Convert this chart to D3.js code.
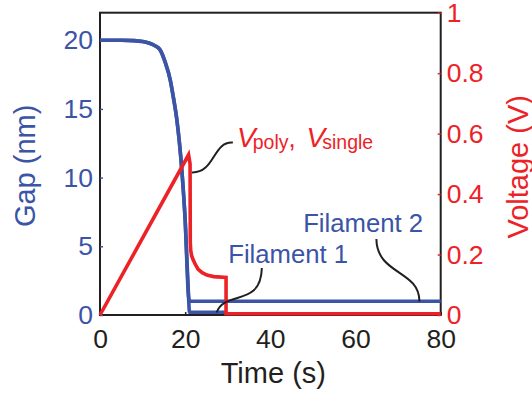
<!DOCTYPE html>
<html>
<head>
<meta charset="utf-8">
<script src="https://cdn.jsdelivr.net/npm/d3@7"></script>
<style>
  html, body { margin: 0; padding: 0; background: #fff; }
  svg { display: block; }
  text { font-family: "Liberation Sans", Arial, Helvetica, sans-serif; }
</style>
</head>
<body>
<svg id="chart" width="532" height="396"></svg>
<script>
// Gap closing (shared part of both filaments), time in s, gap in nm
const dropTime = [0, 5, 8, 10, 11.8, 12.9, 14.1, 15.3, 16.5, 17.25, 18.05, 19.2, 20.0, 20.8];
const dropGap  = [20, 20, 19.97, 19.9, 19.76, 19.6, 19.3, 18.4, 17.1, 15.8, 14.2, 10.6, 6.9, 1.3];

// Final gap of each filament after contact
const fil1Time = [21.0, 29.6];
const fil1Gap  = [0.2, 0.2];
const fil2Time = [21.0, 80];
const fil2Gap  = [1.0, 1.0];

// Applied voltage (V): linear sweep, abrupt drop, plateau, switch-off
const voltTime = [0, 20.8, 21.15, 21.2, 21.3, 21.5, 21.8, 22.3, 23.0, 24.0, 25.1, 26.7, 29.6, 29.6, 80];
const voltage  = [0, 0.53, 0.50, 0.24, 0.215, 0.197, 0.185, 0.17, 0.152, 0.14, 0.132, 0.127, 0.124, 0.004, 0.004];

// Axis ticks
const timeTicks = [0, 20, 40, 60, 80];
const gapTicks = [0, 5, 10, 15, 20];
const voltTicks = [0, 0.2, 0.4, 0.6, 0.8, 1];

// Leader curves (cubic Bezier control points, in t / gap units)
const leaderV    = [[31.2, 12.55], [26.5, 12.66], [27.0, 10.33], [21.6, 10.37]];
const leaderFil1 = [[38.0, 3.42], [37.8, 0.51], [29.1, 1.82], [27.4, 0.18]];
const leaderFil2 = [[64.9, 5.53], [65.0, 2.91], [75.1, 3.27], [75.0, 0.98]];

const BLUE = "#3b54a5";
const RED = "#ed2227";
const BLACK = "#231f20";

const svg = d3.select("#chart");
const plotLeft = 100, plotRight = 440.7, plotTop = 12.7, plotBottom = 315;

const x = d3.scaleLinear().domain([0, 80]).range([plotLeft, plotRight]);
const yGap = d3.scaleLinear().domain([0, 22]).range([plotBottom, plotTop]);
const yV = d3.scaleLinear().domain([0, 1]).range([plotBottom, plotTop]);

// Plot frame
svg.append("rect")
  .attr("x", plotLeft).attr("y", plotTop)
  .attr("width", plotRight - plotLeft).attr("height", plotBottom - plotTop)
  .attr("fill", "none").attr("stroke", BLACK).attr("stroke-width", 2);

const tickFont = 26.5;

function styleAxis(g, color) {
  g.select(".domain").remove();
  g.selectAll(".tick line").attr("stroke", color).attr("stroke-width", 1.5);
  g.selectAll(".tick text")
    .attr("fill", color)
    .style("font-size", tickFont + "px")
    .style("font-family", '"Liberation Sans", Arial, sans-serif');
}

svg.append("g")
  .attr("transform", `translate(${plotLeft},0)`)
  .call(d3.axisLeft(yGap).tickValues(gapTicks).tickSizeInner(-3).tickSizeOuter(0).tickPadding(7))
  .call(g => styleAxis(g, BLUE));

svg.append("g")
  .attr("transform", `translate(${plotRight},0)`)
  .call(d3.axisRight(yV).tickValues(voltTicks).tickSizeInner(-3).tickSizeOuter(0).tickPadding(6)
    .tickFormat(d => d === 0 || d === 1 ? String(d) : d3.format(".1f")(d)))
  .call(g => styleAxis(g, RED));

svg.append("g")
  .attr("transform", `translate(0,${plotBottom})`)
  .call(d3.axisBottom(x).tickValues(timeTicks).tickSizeInner(-3).tickSizeOuter(0).tickPadding(14.5))
  .call(g => styleAxis(g, BLACK));

// Axis titles
svg.append("text")
  .attr("transform", `translate(35,${(plotTop + plotBottom) / 2 + 2}) rotate(-90)`)
  .attr("text-anchor", "middle")
  .attr("fill", BLUE)
  .style("font-size", "29px")
  .text("Gap (nm)");

svg.append("text")
  .attr("transform", `translate(527.5,${(plotTop + plotBottom) / 2 + 3}) rotate(-90)`)
  .attr("text-anchor", "middle")
  .attr("fill", RED)
  .style("font-size", "29px")
  .text("Voltage (V)");

svg.append("text")
  .attr("x", (plotLeft + plotRight) / 2 + 3)
  .attr("y", 382.5)
  .attr("text-anchor", "middle")
  .attr("fill", BLACK)
  .style("font-size", "29px")
  .text("Time (s)");

// Curves
const zip = (a, b) => a.map((v, i) => [v, b[i]]);
const dropPts = zip(dropTime, dropGap);
const fil1 = dropPts.concat(zip(fil1Time, fil1Gap));
const fil2 = dropPts.concat(zip(fil2Time, fil2Gap));

const gapLine = d3.line().x(d => x(d[0])).y(d => yGap(d[1])).curve(d3.curveMonotoneX);
const voltLine = d3.line().x(d => x(d[0])).y(d => yV(d[1]));

[fil1, fil2].forEach(pts => {
  svg.append("path")
    .attr("d", gapLine(pts))
    .attr("fill", "none")
    .attr("stroke", BLUE)
    .attr("stroke-width", 3.6)
    .attr("stroke-linejoin", "round");
});

svg.append("path")
  .attr("d", voltLine(zip(voltTime, voltage)))
  .attr("fill", "none")
  .attr("stroke", RED)
  .attr("stroke-width", 3.6)
  .attr("stroke-linejoin", "miter");

// Leader lines
function leader(c) {
  const p = d3.path();
  const s = c.map(d => [x(d[0]), yGap(d[1])]);
  p.moveTo(s[0][0], s[0][1]);
  p.bezierCurveTo(s[1][0], s[1][1], s[2][0], s[2][1], s[3][0], s[3][1]);
  return p.toString();
}
[leaderV, leaderFil1, leaderFil2].forEach(c => {
  svg.append("path")
    .attr("d", leader(c))
    .attr("fill", "none")
    .attr("stroke", BLACK)
    .attr("stroke-width", 2);
});

// Voltage label: V_poly, V_single
const vBase = yGap(12.23);
const t1 = svg.append("text").attr("x", x(32.17)).attr("y", vBase).attr("fill", RED);
t1.append("tspan").style("font-style", "italic").style("font-size", "28px").text("V");
t1.append("tspan").attr("dx", -3).attr("dy", 2).style("font-size", "19.5px").text("poly");
t1.append("tspan").attr("dy", -2).style("font-size", "26px").text(",");

const t2 = svg.append("text").attr("x", x(48.5)).attr("y", vBase).attr("fill", RED);
t2.append("tspan").style("font-style", "italic").style("font-size", "28px").text("V");
t2.append("tspan").attr("dx", -3).attr("dy", 2).style("font-size", "19.5px").text("single");

// Filament labels
svg.append("text")
  .attr("x", x(30.1)).attr("y", yGap(3.76))
  .attr("fill", BLUE).style("font-size", "25.7px")
  .text("Filament 1");

svg.append("text")
  .attr("x", x(47.7)).attr("y", yGap(6.06))
  .attr("fill", BLUE).style("font-size", "25.7px")
  .text("Filament 2");
</script>
</body>
</html>
